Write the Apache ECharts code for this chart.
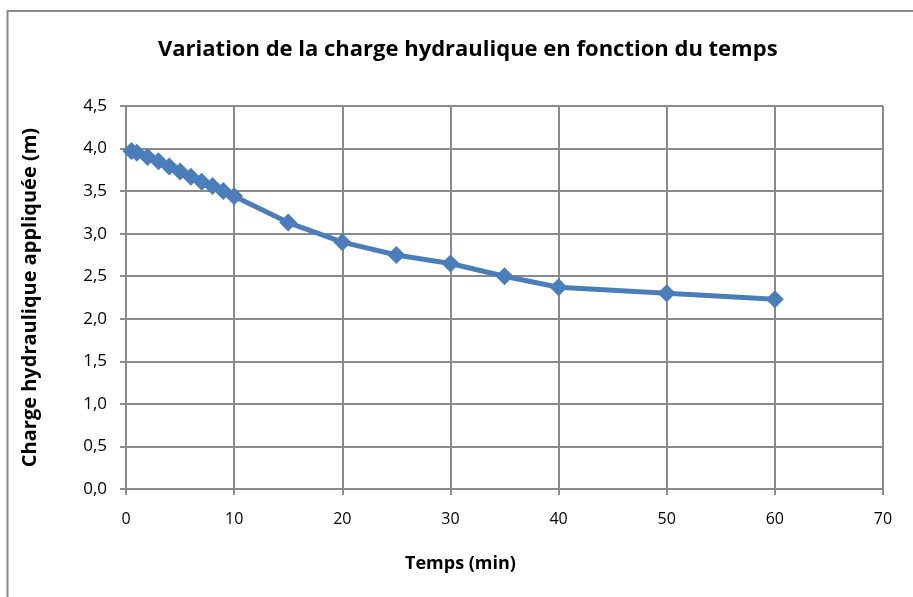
<!DOCTYPE html>
<html>
<head>
<meta charset="utf-8">
<script src="https://cdn.jsdelivr.net/npm/echarts@6/dist/echarts.min.js"></script>
<style>
  html, body { margin: 0; padding: 0; background: #fff; }
  #chart { width: 913px; height: 597px; }
</style>
</head>
<body>
<div id="chart"></div>
<script>
// Temps (min) et charge hydraulique appliquée (m)
const temps = [0.5, 1, 2, 3, 4, 5, 6, 7, 8, 9, 10, 15, 20, 25, 30, 35, 40, 50, 60];
const charge = [3.97, 3.95, 3.90, 3.85, 3.79, 3.73, 3.67, 3.61, 3.56, 3.50, 3.44, 3.13, 2.90, 2.75, 2.65, 2.50, 2.37, 2.30, 2.23];

const titre = 'Variation de la charge hydraulique en fonction du temps';
const titreX = 'Temps (min)';
const titreY = 'Charge hydraulique appliquée (m)';

const police = '"Open Sans", Lato, sans-serif';
const bleu = '#4A7EBB';
const gris = '#8a8a8a';

const chart = echarts.init(document.getElementById('chart'), null, { renderer: 'canvas' });

const virgule = v => v.toFixed(1).replace('.', ',');

chart.setOption({
  animation: false,
  backgroundColor: '#ffffff',
  graphic: [{
    type: 'rect',
    shape: { x: 7.5, y: 11, width: 1000, height: 1000 },
    style: { fill: 'none', stroke: '#8a8a8a', lineWidth: 2 },
    silent: true
  }],
  title: {
    text: titre,
    left: 153,
    top: 34,
    textStyle: { fontFamily: police, fontWeight: 'bold', fontSize: 22, color: '#000' }
  },
  grid: { left: 126, right: 30, top: 106, bottom: 108 },
  xAxis: {
    type: 'value',
    min: 0, max: 70, interval: 10,
    name: titreX,
    nameLocation: 'middle',
    nameGap: 66,
    nameTextStyle: { fontFamily: police, fontWeight: 'bold', fontSize: 18, color: '#000', padding: [0, 88, 0, 0] },
    axisLine: { show: true, onZero: false, lineStyle: { color: gris, width: 2 } },
    axisTick: { show: true, inside: false, length: 6, lineStyle: { color: gris, width: 2 } },
    axisLabel: { fontFamily: police, fontSize: 16, color: '#000', margin: 22 },
    splitLine: { show: true, lineStyle: { color: gris, width: 2 } }
  },
  yAxis: {
    type: 'value',
    min: 0, max: 4.5, interval: 0.5,
    name: titreY,
    nameLocation: 'middle',
    nameGap: 86,
    nameRotate: 90,
    nameTextStyle: { fontFamily: police, fontWeight: 'bold', fontSize: 20, color: '#000' },
    axisLine: { show: true, lineStyle: { color: gris, width: 2 } },
    axisTick: { show: true, inside: false, length: 6, lineStyle: { color: gris, width: 2 } },
    axisLabel: { fontFamily: police, fontSize: 17, color: '#000', margin: 19, formatter: virgule },
    splitLine: { show: true, lineStyle: { color: gris, width: 2 } }
  },
  series: [{
    type: 'line',
    data: temps.map((t, i) => [t, charge[i]]),
    symbol: 'diamond',
    symbolSize: 18,
    showAllSymbol: true,
    lineStyle: { color: bleu, width: 5 },
    itemStyle: { color: bleu, borderWidth: 0 }
  }]
});
</script>
</body>
</html>
